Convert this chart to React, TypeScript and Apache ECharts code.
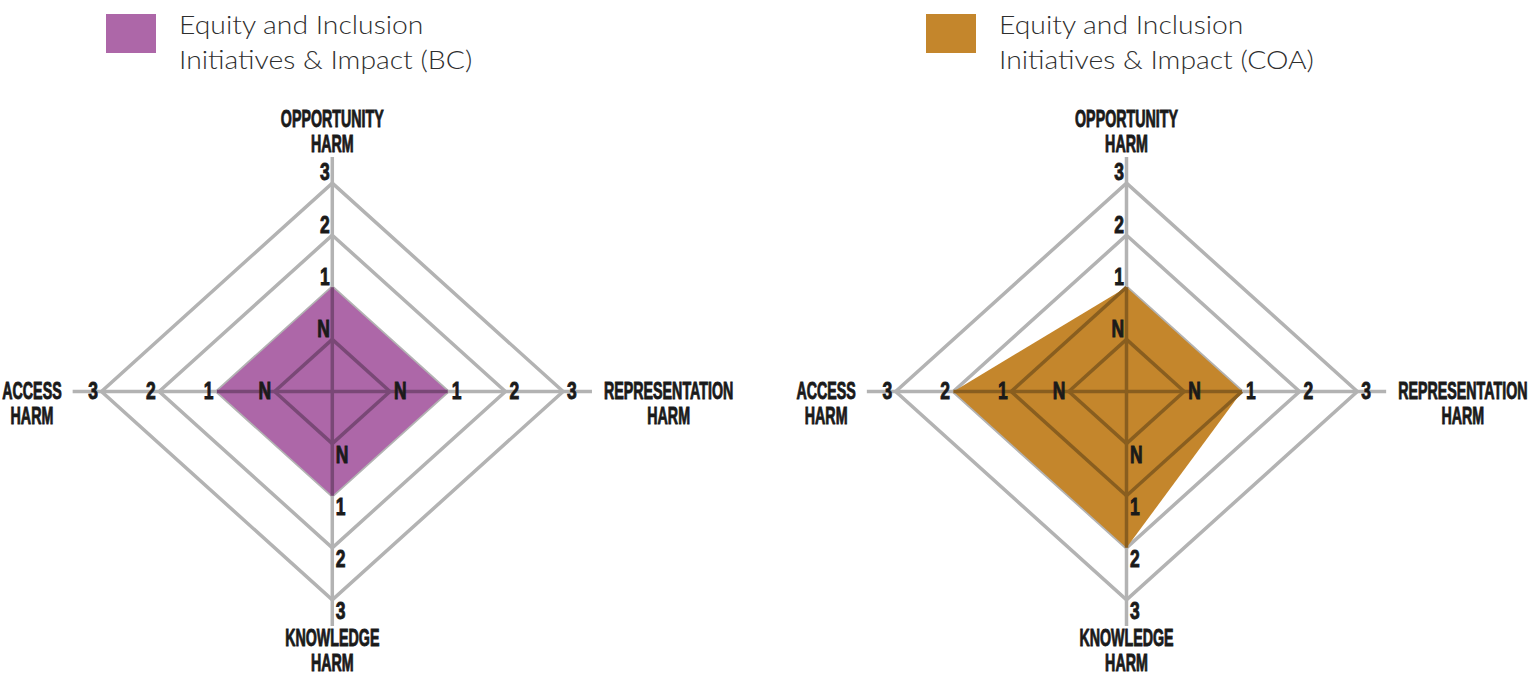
import React, { useEffect, useRef } from 'react';
import * as echarts from 'echarts';

// ---------- data ----------
const AXIS_NAMES = ['OPPORTUNITY\nHARM', 'REPRESENTATION\nHARM', 'KNOWLEDGE\nHARM', 'ACCESS\nHARM'];
// scale positions of the rings (center = 0)
const LEVELS = [1, 2, 3, 4];
const LEVEL_LABELS = ['N', '1', '2', '3'];
// values in scale positions (N = 1, "1" = 2, "2" = 3, "3" = 4), order: opportunity, representation, knowledge, access
const BC_VALUES = [2, 2, 2, 2];
const COA_VALUES = [2, 2, 3, 3];
const SERIES_NAMES = [
  'Equity and Inclusion\nInitiatives & Impact (BC)',
  'Equity and Inclusion\nInitiatives & Impact (COA)',
];

// ---------- style / layout ----------
const FILL_COLORS = ['#AD67A8', '#C4862C'];
const INNER_COLORS = ['#794876', '#895E1F'];
const GRAY = '#B3B3B3';
const TEXT = '#1a1a1a';
const AXIS_EXTENT = 4.5;
const CENTERS_X = [332.3, 1126.5];
const CENTER_Y = 391.5;
const UNIT_X = 57.7;
const UNIT_Y = 52.1;
const COND_FONT = '"Liberation Sans", Arial, sans-serif';
const LABEL_SIZE = 23;
const NAME_SCALE = 0.62;
const TICK_SCALE = 0.76;
const LEGEND_X = [106, 926];
const LEGEND_FONT = 'Lato, "Open Sans", sans-serif';

const DIRS = [
  [0, 1],
  [1, 0],
  [0, -1],
  [-1, 0],
];

type P = [number, number];

function polygonOf(values: number[]): P[] {
  return values.map((v, i) => [DIRS[i][0] * v, DIRS[i][1] * v] as P);
}

// Cyrus-Beck clip of segment a-b to convex clockwise polygon (y up). Boundary-lying parts are excluded.
function clip(a: P, b: P, poly: P[]): [P, P] | null {
  const d: P = [b[0] - a[0], b[1] - a[1]];
  let tE = 0;
  let tL = 1;
  for (let k = 0; k < poly.length; k++) {
    const p = poly[k];
    const q = poly[(k + 1) % poly.length];
    const e: P = [q[0] - p[0], q[1] - p[1]];
    const n: P = [e[1], -e[0]];
    const num = n[0] * (a[0] - p[0]) + n[1] * (a[1] - p[1]);
    const den = n[0] * d[0] + n[1] * d[1];
    if (Math.abs(den) < 1e-12) {
      if (num <= 1e-9) return null;
      continue;
    }
    const t = -num / den;
    if (den > 0) tE = Math.max(tE, t);
    else tL = Math.min(tL, t);
  }
  if (tE >= tL - 1e-9) return null;
  return [
    [a[0] + tE * d[0], a[1] + tE * d[1]],
    [a[0] + tL * d[0], a[1] + tL * d[1]],
  ];
}

function baseSegments(): [P, P][] {
  const segs: [P, P][] = [];
  LEVELS.forEach((v) => {
    for (let i = 0; i < 4; i++) {
      const j = (i + 1) % 4;
      segs.push([
        [DIRS[i][0] * v, DIRS[i][1] * v],
        [DIRS[j][0] * v, DIRS[j][1] * v],
      ]);
    }
  });
  segs.push([[-AXIS_EXTENT, 0], [AXIS_EXTENT, 0]]);
  segs.push([[0, -AXIS_EXTENT], [0, AXIS_EXTENT]]);
  return segs;
}

let measureCtx: CanvasRenderingContext2D | null = null;
function blockWidth(text: string): number {
  if (!measureCtx) measureCtx = document.createElement('canvas').getContext('2d');
  if (!measureCtx) return 100;
  measureCtx.font = `bold ${LABEL_SIZE}px ${COND_FONT}`;
  return Math.max(...text.split('\n').map((l) => measureCtx!.measureText(l).width)) * NAME_SCALE;
}

function chartSeries(c: number, values: number[]): any[] {
  const poly = polygonOf(values);
  const inner = baseSegments()
    .map(([a, b]) => clip(a, b, poly))
    .filter((s) => s)
    .map((s) => [s![0][0], s![0][1], s![1][0], s![1][1]]);

  const common = { type: 'custom', xAxisIndex: c, yAxisIndex: c, silent: true, clip: false, animation: false };

  const rings = {
    ...common,
    name: 'rings' + c,
    z: 1,
    data: LEVELS.map((v) => [v, 0]),
    renderItem: (params: any, api: any) => {
      const v = api.value(0);
      const pts = DIRS.map((d) => api.coord([d[0] * v, d[1] * v]));
      return {
        type: 'polygon',
        shape: { points: pts },
        style: { fill: 'none', stroke: GRAY, lineWidth: 3.5, lineJoin: 'miter' },
      };
    },
  };

  const axes = {
    ...common,
    name: 'axes' + c,
    z: 1,
    data: [
      [-AXIS_EXTENT, 0, AXIS_EXTENT, 0],
      [0, -AXIS_EXTENT, 0, AXIS_EXTENT],
    ],
    renderItem: (params: any, api: any) => {
      const a = api.coord([api.value(0), api.value(1)]);
      const b = api.coord([api.value(2), api.value(3)]);
      return {
        type: 'line',
        shape: { x1: a[0], y1: a[1], x2: b[0], y2: b[1] },
        style: { stroke: GRAY, lineWidth: 3.5 },
      };
    },
  };

  const area = {
    ...common,
    name: SERIES_NAMES[c],
    z: 2,
    data: [[0, 0]],
    itemStyle: { color: FILL_COLORS[c] },
    renderItem: (params: any, api: any) => {
      const pts = poly.map((p) => api.coord(p));
      return {
        type: 'polygon',
        shape: { points: pts },
        style: { fill: FILL_COLORS[c], stroke: 'none' },
      };
    },
  };

  const innerLines = {
    ...common,
    name: 'inner' + c,
    z: 3,
    data: inner,
    renderItem: (params: any, api: any) => {
      const a = api.coord([api.value(0), api.value(1)]);
      const b = api.coord([api.value(2), api.value(3)]);
      return {
        type: 'line',
        shape: { x1: a[0], y1: a[1], x2: b[0], y2: b[1] },
        style: { stroke: INNER_COLORS[c], lineWidth: 3.5 },
      };
    },
  };

  const tickData: number[][] = [];
  for (let i = 0; i < 4; i++) for (let j = 0; j < LEVELS.length; j++) tickData.push([i, j]);

  const ticks = {
    ...common,
    name: 'ticks' + c,
    z: 4,
    data: tickData,
    renderItem: (params: any, api: any) => {
      const i = api.value(0);
      const j = api.value(1);
      const v = LEVELS[j];
      const pos = api.coord([DIRS[i][0] * v, DIRS[i][1] * v]);
      let x = pos[0];
      let y = pos[1];
      let align = 'left';
      if (i === 0) {
        x -= 2.5;
        y -= 10.5;
        align = 'right';
      } else if (i === 1) {
        x += 4;
      } else if (i === 2) {
        x += 3.5;
        y += 11.5;
      } else {
        x -= 3.5;
        align = 'right';
      }
      return {
        type: 'text',
        x,
        y,
        scaleX: TICK_SCALE,
        style: {
          text: LEVEL_LABELS[j],
          x: 0,
          y: 0,
          fill: TEXT,
          stroke: TEXT,
          lineWidth: 0.9,
          fontSize: LABEL_SIZE,
          fontWeight: 'bold',
          fontFamily: COND_FONT,
          align,
          verticalAlign: 'middle',
        },
      };
    },
  };

  const names = {
    ...common,
    name: 'names' + c,
    z: 4,
    data: AXIS_NAMES.map((_, i) => [i, 0]),
    renderItem: (params: any, api: any) => {
      const i = api.value(0);
      const name = AXIS_NAMES[i];
      const end = api.coord([DIRS[i][0] * AXIS_EXTENT, DIRS[i][1] * AXIS_EXTENT]);
      let x = end[0];
      let y = end[1];
      const w = blockWidth(name);
      if (i === 0) y -= 25.5;
      else if (i === 2) y += 25;
      else if (i === 1) {
        x += 12 + w / 2;
        y += 12.5;
      } else {
        x -= 11 + w / 2;
        y += 12.5;
      }
      return {
        type: 'text',
        x,
        y,
        scaleX: NAME_SCALE,
        style: {
          text: name,
          x: 0,
          y: 0,
          fill: TEXT,
          stroke: TEXT,
          lineWidth: 0.9,
          fontSize: LABEL_SIZE,
          lineHeight: 25,
          fontWeight: 'bold',
          fontFamily: COND_FONT,
          align: 'center',
          verticalAlign: 'middle',
        },
      };
    },
  };

  return [rings, axes, area, innerLines, ticks, names];
}

export default function App() {
  const ref = useRef<HTMLDivElement>(null);

  useEffect(() => {
    document.body.style.margin = '0';
    if (!ref.current) return;
    const chart = echarts.init(ref.current, null, { renderer: 'svg' });

    const grids = CENTERS_X.map((cx) => ({
      left: cx - AXIS_EXTENT * UNIT_X,
      top: CENTER_Y - AXIS_EXTENT * UNIT_Y,
      width: 2 * AXIS_EXTENT * UNIT_X,
      height: 2 * AXIS_EXTENT * UNIT_Y,
      containLabel: false,
    }));
    const axisBase = { type: 'value', min: -AXIS_EXTENT, max: AXIS_EXTENT, show: false };

    const legendGraphics: any[] = [];
    SERIES_NAMES.forEach((name, c) => {
      legendGraphics.push({
        type: 'rect',
        shape: { x: LEGEND_X[c], y: 14, width: 50, height: 39 },
        style: { fill: FILL_COLORS[c] },
      });
      legendGraphics.push({
        type: 'text',
        x: LEGEND_X[c] + 73,
        y: 41.5,
        scaleX: 1.09,
        style: {
          text: name,
          fill: '#2e2e2e',
          fontSize: 26,
          lineHeight: 35,
          fontWeight: 300,
          fontFamily: LEGEND_FONT,
          align: 'left',
          verticalAlign: 'middle',
        },
      });
    });

    chart.setOption({
      animation: false,
      backgroundColor: '#ffffff',
      grid: grids,
      xAxis: grids.map((_, i) => ({ ...axisBase, gridIndex: i })),
      yAxis: grids.map((_, i) => ({ ...axisBase, gridIndex: i })),
      graphic: legendGraphics,
      series: [...chartSeries(0, BC_VALUES), ...chartSeries(1, COA_VALUES)],
    });

    return () => {
      chart.dispose();
    };
  }, []);

  return <div ref={ref} style={{ width: 1538, height: 675 }} />;
}
